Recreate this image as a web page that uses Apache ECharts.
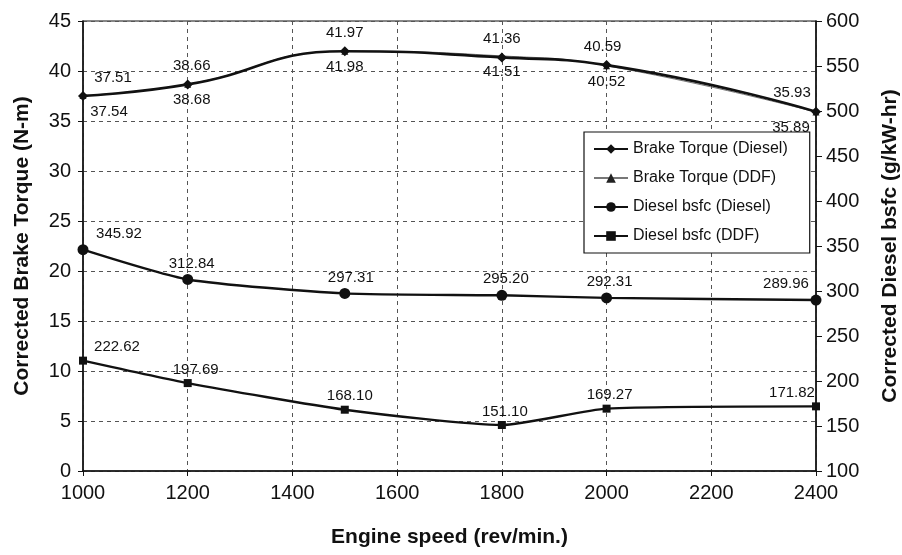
<!DOCTYPE html>
<html>
<head>
<meta charset="utf-8">
<script src="https://cdn.jsdelivr.net/npm/echarts@6/dist/echarts.min.js"></script>
<style>
  html, body { margin: 0; padding: 0; background: #fff; }
  #chart { width: 902px; height: 555px; }
</style>
</head>
<body>
<div id="chart"></div>
<script>
// Engine speed (rev/min) at which each run was measured
const speeds = [1000, 1200, 1500, 1800, 2000, 2400];
// Corrected brake torque (N-m)
const torqueDiesel = [37.51, 38.66, 41.97, 41.36, 40.59, 35.93];
const torqueDDF = [37.54, 38.68, 41.98, 41.51, 40.52, 35.89];
// Corrected diesel bsfc (g/kW-hr)
const bsfcDiesel = [345.92, 312.84, 297.31, 295.20, 292.31, 289.96];
const bsfcDDF = [222.62, 197.69, 168.10, 151.10, 169.27, 171.82];

// Axis ranges / ticks
const xTicks = { min: 1000, max: 2400, interval: 200 };
const torqueTicks = { min: 0, max: 45, interval: 5 };
const bsfcTicks = { min: 100, max: 600, interval: 50 };

// Horizontal nudges for value labels so end labels stay inside the frame
const shiftTorqueUp = [30, 4, 0, 0, -4, -24];
const shiftTorqueDown = [26, 4, 0, 0, 0, -25];
const shiftBsfc = [36, 4, 6, 4, 3, -30];
const shiftBsfcDDF = [34, 8, 5, 3, 3, -24];

const FONT = "'Liberation Sans', Arial, sans-serif";
const INK = '#111';

function points(values, shifts) {
  return speeds.map((x, i) => ({
    value: [x, values[i]],
    label: { offset: [shifts[i], 0] }
  }));
}

const labelStyle = {
  show: true,
  fontFamily: FONT,
  fontSize: 15,
  color: INK,
  formatter: p => p.value[1].toFixed(2)
};

const plain = v => String(v);

const chart = echarts.init(document.getElementById('chart'), null, { renderer: 'canvas' });

chart.setOption({
  backgroundColor: '#fff',
  animation: false,
  textStyle: { fontFamily: FONT, color: INK },
  grid: {
    left: 83, right: 86, top: 21, bottom: 84,
    outerBoundsMode: 'none',
    containLabel: false,
    show: true, borderColor: '#111', borderWidth: 1.2, backgroundColor: 'transparent'
  },
  legend: {
    orient: 'vertical',
    left: 584, top: 132,
    padding: [9, 22, 9, 9],
    itemGap: 13,
    itemWidth: 34,
    itemHeight: 12,
    backgroundColor: '#fff',
    borderColor: '#111',
    borderWidth: 1.2,
    borderRadius: 0,
    textStyle: { fontFamily: FONT, fontSize: 16, color: INK },
    data: ['Brake Torque (Diesel)', 'Brake Torque (DDF)', 'Diesel bsfc (Diesel)', 'Diesel bsfc (DDF)']
  },
  xAxis: {
    type: 'value',
    min: xTicks.min, max: xTicks.max, interval: xTicks.interval,
    name: 'Engine speed (rev/min.)',
    nameLocation: 'middle',
    nameGap: 56,
    nameTextStyle: { fontFamily: FONT, fontSize: 21, fontWeight: 'bold', color: INK },
    axisLine: { lineStyle: { color: '#111', width: 1.5 } },
    axisTick: { show: true, length: 5, lineStyle: { color: '#111' } },
    axisLabel: { fontFamily: FONT, fontSize: 20, color: INK, margin: 12, formatter: plain },
    splitLine: { show: true, lineStyle: { color: '#555', type: [4, 4], width: 1 } }
  },
  yAxis: [
    {
      type: 'value',
      min: torqueTicks.min, max: torqueTicks.max, interval: torqueTicks.interval,
      name: 'Corrected Brake Torque (N-m)',
      nameLocation: 'middle',
      nameGap: 50,
      nameRotate: 90,
      nameTextStyle: { fontFamily: FONT, fontSize: 21, fontWeight: 'bold', color: INK },
      axisLine: { show: true, lineStyle: { color: '#111', width: 1.5 } },
      axisTick: { show: true, length: 5, lineStyle: { color: '#111' } },
      axisLabel: { fontFamily: FONT, fontSize: 20, color: INK, margin: 12, formatter: plain },
      splitLine: { show: true, lineStyle: { color: '#555', type: [4, 4], width: 1 } }
    },
    {
      type: 'value',
      position: 'right',
      min: bsfcTicks.min, max: bsfcTicks.max, interval: bsfcTicks.interval,
      name: 'Corrected Diesel bsfc (g/kW-hr)',
      nameLocation: 'middle',
      nameGap: 64,
      nameRotate: 90,
      nameTextStyle: { fontFamily: FONT, fontSize: 21, fontWeight: 'bold', color: INK },
      axisLine: { show: true, lineStyle: { color: '#111', width: 1.5 } },
      axisTick: { show: true, length: 6, lineStyle: { color: '#111' } },
      axisLabel: { fontFamily: FONT, fontSize: 20, color: INK, margin: 10, formatter: plain },
      splitLine: { show: false }
    }
  ],
  series: [
    {
      name: 'Brake Torque (DDF)',
      type: 'line',
      yAxisIndex: 0,
      smooth: 0.5,
      symbol: 'triangle',
      symbolSize: 7,
      z: 2,
      lineStyle: { color: '#777', width: 1 },
      itemStyle: { color: '#222' },
      label: Object.assign({}, labelStyle, { position: 'bottom', distance: 5 }),
      data: points(torqueDDF, shiftTorqueDown)
    },
    {
      name: 'Brake Torque (Diesel)',
      type: 'line',
      yAxisIndex: 0,
      smooth: 0.5,
      symbol: 'diamond',
      symbolSize: 10,
      z: 3,
      lineStyle: { color: '#111', width: 2.6 },
      itemStyle: { color: '#111' },
      label: Object.assign({}, labelStyle, { position: 'top', distance: 6 }),
      data: points(torqueDiesel, shiftTorqueUp)
    },
    {
      name: 'Diesel bsfc (Diesel)',
      type: 'line',
      yAxisIndex: 1,
      smooth: 0.2,
      symbol: 'circle',
      symbolSize: 11,
      lineStyle: { color: '#111', width: 2.4 },
      itemStyle: { color: '#111' },
      label: Object.assign({}, labelStyle, { position: 'top', distance: 3 }),
      data: points(bsfcDiesel, shiftBsfc)
    },
    {
      name: 'Diesel bsfc (DDF)',
      type: 'line',
      yAxisIndex: 1,
      smooth: 0.2,
      symbol: 'rect',
      symbolSize: 8,
      lineStyle: { color: '#111', width: 2.4 },
      itemStyle: { color: '#111' },
      label: Object.assign({}, labelStyle, { position: 'top', distance: 2 }),
      data: points(bsfcDDF, shiftBsfcDDF)
    }
  ]
});
</script>
</body>
</html>
